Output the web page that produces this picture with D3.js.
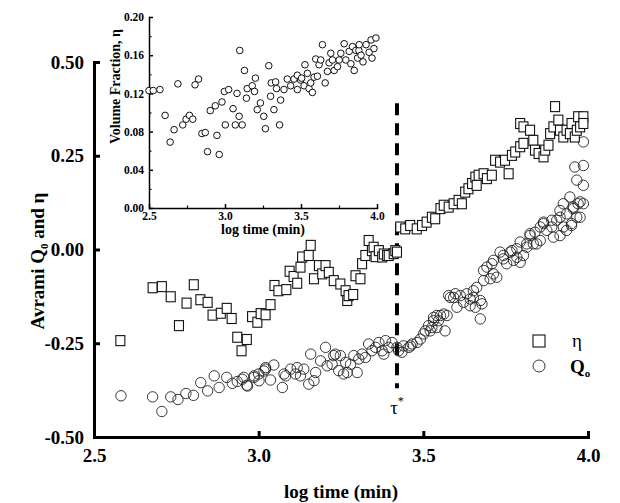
<!DOCTYPE html>
<html>
<head>
<meta charset="utf-8">
<script src="https://cdn.jsdelivr.net/npm/d3@7"></script>
<style>
  body { margin: 0; background: #fff; }
  svg text { font-family: "Liberation Serif", "DejaVu Serif", serif; }
</style>
</head>
<body>
<div class="chart"></div>
<script>
// eta (squares), main plot
const etaX = [2.58, 2.678, 2.706, 2.733, 2.758, 2.781, 2.803, 2.823, 2.845, 2.86, 2.885, 2.903, 2.918, 2.935, 2.948, 2.964, 2.98, 2.996, 3.006, 3.021, 3.036, 3.048, 3.06, 3.084, 3.094, 3.106, 3.117, 3.127, 3.132, 3.152, 3.158, 3.168, 3.183, 3.193, 3.203, 3.213, 3.228, 3.248, 3.264, 3.269, 3.273, 3.287, 3.294, 3.309, 3.314, 3.324, 3.334, 3.344, 3.349, 3.355, 3.365, 3.375, 3.38, 3.39, 3.395, 3.41, 3.415, 3.42,
  3.43, 3.445, 3.46, 3.48, 3.496, 3.51, 3.526, 3.536, 3.552, 3.562, 3.577, 3.592, 3.607, 3.617, 3.627, 3.637, 3.648, 3.658, 3.662, 3.668, 3.683, 3.693, 3.708, 3.718, 3.733, 3.748, 3.759, 3.769, 3.779, 3.794, 3.794, 3.804, 3.804, 3.824, 3.834, 3.839, 3.85, 3.865, 3.87, 3.88, 3.885, 3.895, 3.9, 3.91, 3.915, 3.925, 3.935, 3.945, 3.95, 3.96, 3.966, 3.97, 3.976, 3.986, 3.986];
const etaY = [-0.243, -0.102, -0.099, -0.126, -0.203, -0.143, -0.094, -0.134, -0.141, -0.175, -0.170, -0.157, -0.184, -0.234, -0.27, -0.24, -0.179, -0.194, -0.171, -0.174, -0.147, -0.096, -0.11, -0.107, -0.058, -0.072, -0.09, -0.047, -0.02, -0.016, 0.011, -0.078, -0.043, -0.065, -0.043, -0.061, -0.083, -0.092, -0.11, -0.136, -0.123, -0.12, -0.07, -0.078, -0.038, -0.016, 0.024, -0.003, 0.006, -0.019, -0.003, -0.02, -0.012, -0.016, -0.016, -0.011, -0.003, -0.007,
  0.06, 0.055, 0.064, 0.055, 0.064, 0.073, 0.086, 0.082, 0.109, 0.118, 0.113, 0.122, 0.131, 0.122, 0.153, 0.162, 0.176, 0.193, 0.171, 0.198, 0.202, 0.189, 0.198, 0.238, 0.233, 0.238, 0.202, 0.251, 0.26, 0.274, 0.336, 0.283, 0.327, 0.318, 0.291, 0.265, 0.256, 0.247, 0.265, 0.278, 0.309, 0.327, 0.381, 0.345, 0.318, 0.30, 0.318, 0.309, 0.336, 0.30, 0.318, 0.354, 0.327, 0.354, 0.336];

// Avrami Q0 (circles), main plot
const q0X = [2.582, 2.678, 2.706, 2.733, 2.755, 2.779, 2.802, 2.824, 2.845, 2.865, 2.88, 2.903, 2.92, 2.935, 2.95, 2.955, 2.964, 2.966, 2.986, 2.986, 3.0, 3.001, 3.016, 3.021, 3.021, 3.036, 3.046, 3.072, 3.077, 3.082, 3.097, 3.112, 3.117, 3.127, 3.137, 3.152, 3.158, 3.168, 3.173, 3.188, 3.203, 3.208, 3.223, 3.228, 3.233, 3.243, 3.248, 3.258, 3.264, 3.269, 3.279, 3.289, 3.299, 3.304, 3.314, 3.324, 3.334, 3.344, 3.355, 3.365, 3.375, 3.38, 3.385, 3.395, 3.405, 3.42, 3.425, 3.435, 3.44, 3.456, 3.461, 3.466, 3.481, 3.491, 3.501, 3.506, 3.516, 3.521, 3.526, 3.531, 3.531, 3.541, 3.541, 3.546, 3.552, 3.562, 3.566, 3.572, 3.577, 3.582, 3.592, 3.597, 3.602, 3.612, 3.622, 3.632, 3.642, 3.642, 3.652, 3.652, 3.658, 3.662, 3.673, 3.673, 3.678, 3.683, 3.683, 3.693, 3.703, 3.708, 3.713, 3.713, 3.723, 3.733, 3.743, 3.743, 3.753, 3.764, 3.769, 3.774, 3.784, 3.784, 3.794, 3.794, 3.804, 3.814, 3.814, 3.824, 3.824, 3.834, 3.839, 3.844, 3.855, 3.855, 3.865, 3.865, 3.875, 3.89, 3.89, 3.895, 3.905, 3.915, 3.915, 3.915, 3.925, 3.925, 3.935, 3.935, 3.945, 3.95, 3.95, 3.955, 3.955, 3.966, 3.97, 3.976, 3.976, 3.96, 3.966, 3.986, 3.986, 3.986, 3.986];
const q0Y = [-0.39, -0.393, -0.432, -0.393, -0.40, -0.384, -0.389, -0.355, -0.377, -0.337, -0.368, -0.341, -0.357, -0.352, -0.346, -0.341, -0.362, -0.364, -0.341, -0.337, -0.332, -0.35, -0.324, -0.315, -0.319, -0.348, -0.308, -0.368, -0.332, -0.337, -0.319, -0.332, -0.315, -0.337, -0.319, -0.359, -0.279, -0.35, -0.328, -0.297, -0.261, -0.31, -0.306, -0.283, -0.279, -0.323, -0.283, -0.332, -0.301, -0.328, -0.306, -0.283, -0.328, -0.292, -0.279, -0.288, -0.252, -0.27, -0.261, -0.248, -0.27, -0.279, -0.243, -0.261, -0.248, -0.261, -0.27, -0.274, -0.257, -0.261, -0.257, -0.252, -0.248, -0.239, -0.225, -0.217, -0.203, -0.217, -0.208, -0.181, -0.19, -0.176, -0.208, -0.19, -0.176, -0.172, -0.217, -0.176, -0.123, -0.128, -0.128, -0.118, -0.154, -0.123, -0.141, -0.118, -0.15, -0.132, -0.11, -0.128, -0.154, -0.101, -0.136, -0.185, -0.145, -0.083, -0.056, -0.047, -0.078, -0.038, -0.065, -0.029, -0.074, -0.007, -0.025, -0.016, -0.038, -0.007, -0.003, -0.029, -0.021, 0.002, 0.02, -0.034, -0.016, 0.006, 0.015, 0.042, 0.037, 0.015, 0.046, 0.015, 0.024, 0.06, 0.069, 0.073, 0.051, 0.078, 0.06, 0.033, 0.078, 0.086, 0.104, 0.037, 0.06, 0.122, 0.095, 0.051, 0.14, 0.069, 0.064, 0.113, 0.109, 0.086, 0.122, 0.127, 0.086, 0.22, 0.185, 0.224, 0.171, 0.287, 0.122];

// inset: volume fraction
const insetX = [2.5, 2.528, 2.572, 2.606, 2.639, 2.665, 2.69, 2.722, 2.744, 2.766, 2.788, 2.803, 2.826, 2.848, 2.87, 2.885, 2.903, 2.936, 2.947, 2.962, 2.98, 2.996, 3.002, 3.024, 3.053, 3.068, 3.079, 3.093, 3.097, 3.113, 3.128, 3.141, 3.146, 3.179, 3.194, 3.2, 3.212, 3.233, 3.255, 3.266, 3.288, 3.3, 3.304, 3.322, 3.333, 3.339, 3.359, 3.366, 3.388, 3.41, 3.432, 3.454, 3.476, 3.476, 3.498, 3.504, 3.52, 3.526, 3.542, 3.553, 3.564, 3.575, 3.586, 3.597, 3.608, 3.619, 3.63, 3.641, 3.659, 3.674, 3.685, 3.696, 3.707, 3.718, 3.74, 3.751, 3.762, 3.784, 3.795, 3.817, 3.828, 3.839, 3.85, 3.861, 3.872, 3.881, 3.883, 3.895, 3.908, 3.928, 3.948, 3.961, 3.967, 3.98, 3.993];
const insetY = [0.123, 0.123, 0.124, 0.097, 0.069, 0.082, 0.13, 0.087, 0.093, 0.097, 0.093, 0.129, 0.135, 0.078, 0.079, 0.059, 0.102, 0.107, 0.076, 0.056, 0.111, 0.122, 0.087, 0.124, 0.104, 0.087, 0.12, 0.096, 0.165, 0.087, 0.144, 0.115, 0.125, 0.128, 0.122, 0.136, 0.103, 0.11, 0.096, 0.083, 0.149, 0.117, 0.131, 0.103, 0.132, 0.125, 0.087, 0.113, 0.124, 0.135, 0.128, 0.135, 0.124, 0.139, 0.134, 0.136, 0.128, 0.15, 0.141, 0.125, 0.131, 0.121, 0.137, 0.156, 0.138, 0.15, 0.155, 0.171, 0.131, 0.143, 0.152, 0.162, 0.155, 0.144, 0.148, 0.155, 0.162, 0.172, 0.155, 0.164, 0.151, 0.169, 0.144, 0.165, 0.157, 0.165, 0.171, 0.160, 0.153, 0.171, 0.163, 0.176, 0.157, 0.167, 0.178];

const mainXTicks = [2.5, 3.0, 3.5, 4.0];
const mainYTicks = [-0.50, -0.25, 0.00, 0.25, 0.50];
const insetXTicks = [2.5, 3.0, 3.5, 4.0];
const insetXMinor = [2.75, 3.25, 3.75];
const insetYTicks = [0.00, 0.04, 0.08, 0.12, 0.16, 0.20];
const insetYMinor = [0.02, 0.06, 0.10, 0.14, 0.18];
const tauX = 3.42;
const legendLabels = ["η", "Q"];

const W = 620, H = 503;
const svg = d3.select(".chart").append("svg")
  .attr("width", W).attr("height", H)
  .attr("viewBox", `0 0 ${W} ${H}`);

const x = d3.scaleLinear().domain([2.5, 4.0]).range([94, 588]);
const y = d3.scaleLinear().domain([-0.5, 0.5]).range([437, 62]);

// plain hyphen minus, like the original
const fmt = n => d => d.toFixed(n);

function styleAxis(g, fs, lw) {
  g.select(".domain").attr("stroke", "#000").attr("stroke-width", lw).attr("stroke-linecap", "square");
  g.selectAll(".tick line").attr("stroke", "#000").attr("stroke-width", lw);
  g.selectAll(".tick text").attr("fill", "#000").style("font-size", fs + "px").style("font-weight", "bold")
    .style("font-family", '"Liberation Serif", serif');
}

// main axes
const gx = svg.append("g").attr("transform", `translate(0,${y(-0.5)})`)
  .call(d3.axisBottom(x).tickValues(mainXTicks).tickFormat(fmt(1)).tickSize(-6).tickSizeOuter(0).tickPadding(12));
styleAxis(gx, 19, 3);
const gy = svg.append("g").attr("transform", `translate(${x(2.5)},0)`)
  .call(d3.axisLeft(y).tickValues(mainYTicks).tickFormat(fmt(2)).tickSize(-6).tickSizeOuter(0).tickPadding(10));
styleAxis(gy, 19, 3);
gy.selectAll(".tick").filter(d => d === -0.5).select("line").remove();
gx.selectAll(".tick").filter(d => d === 2.5).select("line").remove();

svg.append("text")
  .attr("x", (x(2.5) + x(4.0)) / 2).attr("y", 498)
  .attr("text-anchor", "middle")
  .style("font-size", "19px").style("font-weight", "bold")
  .text("log time (min)");

const yt = svg.append("text")
  .attr("transform", `translate(44,261) rotate(-90)`)
  .attr("text-anchor", "middle")
  .style("font-size", "19px").style("font-weight", "bold");
yt.append("tspan").text("Avrami Q");
yt.append("tspan").attr("dy", 4).style("font-size", "11px").text("0");
yt.append("tspan").attr("dy", -4).text(" and η");

// tau* dashed line
svg.append("line")
  .attr("x1", x(tauX)).attr("x2", x(tauX))
  .attr("y1", y(0.39)).attr("y2", y(-0.37))
  .attr("stroke", "#000").attr("stroke-width", 4)
  .attr("stroke-dasharray", "12,8");
const tau = svg.append("text")
  .attr("x", x(tauX)).attr("y", 414)
  .attr("text-anchor", "middle")
  .style("font-size", "19px");
tau.append("tspan").text("τ");
tau.append("tspan").attr("dy", -9).style("font-size", "12px").text("*");

// data: Q0 circles
const q0 = q0X.map((v, i) => [v, q0Y[i]]);
svg.append("g").selectAll("circle").data(q0).join("circle")
  .attr("cx", d => x(d[0])).attr("cy", d => y(d[1]))
  .attr("r", 5.2)
  .attr("fill", "none").attr("stroke", "#222").attr("stroke-width", 0.9);

// data: eta squares
const eta = etaX.map((v, i) => [v, etaY[i]]);
svg.append("g").selectAll("rect").data(eta).join("rect")
  .attr("x", d => x(d[0]) - 4.5).attr("y", d => y(d[1]) - 5)
  .attr("width", 9).attr("height", 10)
  .attr("fill", "#fff").attr("stroke", "#111").attr("stroke-width", 1.1);

// legend
const lg = svg.append("g");
lg.append("rect").attr("x", 533).attr("y", 335).attr("width", 12).attr("height", 12)
  .attr("fill", "#fff").attr("stroke", "#111").attr("stroke-width", 1.1);
lg.append("text").attr("x", 572).attr("y", 347).style("font-size", "19px").text(legendLabels[0]);
lg.append("circle").attr("cx", 539).attr("cy", 366).attr("r", 6)
  .attr("fill", "none").attr("stroke", "#222").attr("stroke-width", 0.9);
const lq = lg.append("text").attr("x", 570).attr("y", 373).style("font-size", "19px").style("font-weight", "bold");
lq.append("tspan").text(legendLabels[1]);
lq.append("tspan").attr("dy", 4).style("font-size", "11px").text("o");

// inset
const ix = d3.scaleLinear().domain([2.5, 4.0]).range([149, 377]);
const iy = d3.scaleLinear().domain([0, 0.2]).range([208, 17]);

const igx = svg.append("g").attr("transform", `translate(0,${iy(0)})`)
  .call(d3.axisBottom(ix).tickValues(insetXTicks).tickFormat(fmt(1)).tickSize(-4).tickSizeOuter(0).tickPadding(4));
styleAxis(igx, 11.5, 1.5);
svg.append("g").attr("transform", `translate(0,${iy(0)})`)
  .call(d3.axisBottom(ix).tickValues(insetXMinor).tickFormat("").tickSize(-2.5).tickSizeOuter(0))
  .call(g => g.select(".domain").remove())
  .selectAll("line").attr("stroke", "#000").attr("stroke-width", 1.2);

const igy = svg.append("g").attr("transform", `translate(${ix(2.5)},0)`)
  .call(d3.axisLeft(iy).tickValues(insetYTicks).tickFormat(fmt(2)).tickSize(-4).tickSizeOuter(0).tickPadding(5));
styleAxis(igy, 11.5, 1.5);
svg.append("g").attr("transform", `translate(${ix(2.5)},0)`)
  .call(d3.axisLeft(iy).tickValues(insetYMinor).tickFormat("").tickSize(-2.5).tickSizeOuter(0))
  .call(g => g.select(".domain").remove())
  .selectAll("line").attr("stroke", "#000").attr("stroke-width", 1.2);

svg.append("text")
  .attr("x", (ix(2.5) + ix(4.0)) / 2).attr("y", 234)
  .attr("text-anchor", "middle")
  .style("font-size", "14px").style("font-weight", "bold")
  .text("log time (min)");
svg.append("text")
  .attr("transform", `translate(120,${(iy(0) + iy(0.2)) / 2 - 26}) rotate(-90)`)
  .attr("text-anchor", "middle")
  .style("font-size", "14px").style("font-weight", "bold")
  .text("Volume Fraction, η");

const ins = insetX.map((v, i) => [v, insetY[i]]);
svg.append("g").selectAll("circle").data(ins).join("circle")
  .attr("cx", d => ix(d[0])).attr("cy", d => iy(d[1]))
  .attr("r", 3.3)
  .attr("fill", "#fff").attr("stroke", "#111").attr("stroke-width", 1);
</script>
</body>
</html>
